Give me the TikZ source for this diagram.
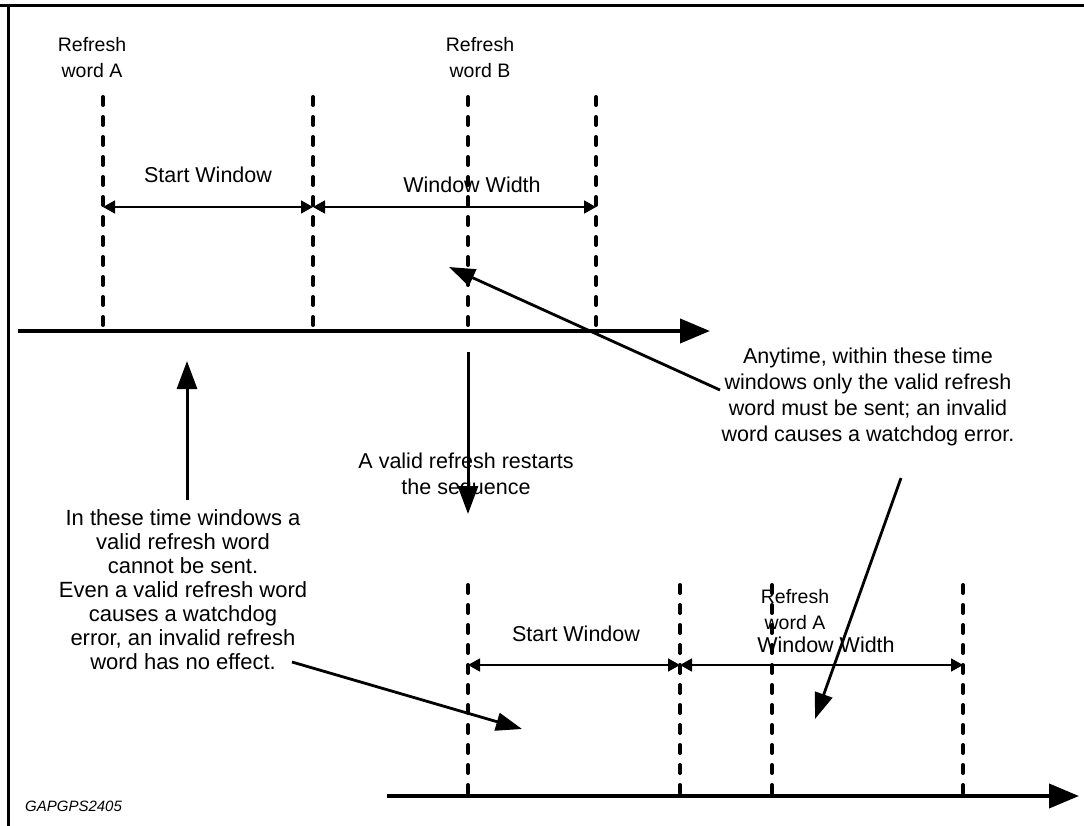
\documentclass[tikz,border=0pt]{standalone}
\usepackage{fontspec}
\setmainfont{Liberation Sans}
\usetikzlibrary{arrows.meta}
\tikzset{
  lbl/.style={align=center,inner sep=0pt,font=\fontsize{21.5}{26}\selectfont},
  reflbl/.style={align=center,inner sep=0pt,font=\fontsize{19.5}{26}\selectfont},
  leftlbl/.style={align=center,inner sep=0pt,font=\fontsize{22}{24}\selectfont},
  axis/.style={line width=4pt,-{Triangle[length=30pt,width=24pt]}},
  tick/.style={line width=4pt,line cap=round,dash pattern=on 8pt off 12pt},
  span/.style={line width=1.8pt,{Triangle[length=12pt,width=13pt]}-{Triangle[length=12pt,width=13pt]}},
  pointer/.style={line width=2.8pt,-{Triangle[length=26pt,width=18pt]}},
  big/.style={line width=3pt,-{Triangle[length=28pt,width=20pt]}}
}
\begin{document}
\begin{tikzpicture}[x=1pt,y=-1pt]
\useasboundingbox (0,0) rectangle (1084,826);
% frame
\draw[line width=3pt] (0,6) -- (1084,6);
\draw[line width=3pt] (8,6) -- (8,826);

% upper timeline
\coordinate (u0) at (18,331);
\coordinate (u1) at (710,331);
\draw[axis] (u0) -- (u1);
\foreach \n/\x in {a/103,b/313,c/468,d/596}{
  \coordinate (ut\n) at (\x,97);
  \coordinate (ub\n) at (\x,331);
  \draw[tick] (ut\n) -- (ub\n);
  \coordinate (um\n) at (\x,207);
}
\draw[span] (uma) -- (umb);
\draw[span] (umb) -- (umd);
\node[lbl] (sw1) at (208,175) {Start Window};
\node[lbl] (ww1) at (472,185) {Window Width};
\node[reflbl] (rwa) at (92,58) {Refresh\\word A};
\node[reflbl] (rwb) at (480,58) {Refresh\\word B};

% lower timeline
\coordinate (l0) at (387,796);
\coordinate (l1) at (1079,796);
\draw[axis] (l0) -- (l1);
\foreach \n/\x in {a/468,b/680,c/772,d/963}{
  \coordinate (lt\n) at (\x,585);
  \coordinate (lb\n) at (\x,796);
  \draw[tick] (lt\n) -- (lb\n);
  \coordinate (lm\n) at (\x,665);
}
\draw[span] (lma) -- (lmb);
\draw[span] (lmb) -- (lmd);
\node[lbl] (sw2) at (576,634) {Start Window};
\node[lbl] (ww2) at (826,645) {Window Width};
\node[reflbl] (rwa2) at (795,610) {Refresh\\word A};

% annotations
\node[lbl] (any) at (868,397) {Anytime, within these time\\windows only the valid refresh\\word must be sent; an invalid\\word causes a watchdog error.};
\node[lbl] (valid) at (466,476) {A valid refresh restarts\\the sequence};
\node[leftlbl] (inwin) at (183,590) {In these time windows a\\valid refresh word\\cannot be sent.\\Even a valid refresh word\\causes a watchdog\\error, an invalid refresh\\word has no effect.};

\coordinate (p1s) at (720,390);
\coordinate (p1e) at (449,267);
\draw[pointer] (p1s) -- (p1e);
\coordinate (p2s) at (901,478);
\coordinate (p2e) at (815,719);
\draw[pointer] (p2s) -- (p2e);
\coordinate (p3s) at (292,662);
\coordinate (p3e) at (522,729);
\draw[pointer] (p3s) -- (p3e);
\coordinate (vs) at (468,352);
\coordinate (ve) at (468,514);
\draw[big] (vs) -- (ve);
\coordinate (us) at (187,500);
\coordinate (ue) at (187,361);
\draw[big] (us) -- (ue);

\node[inner sep=0pt,anchor=west,font=\fontsize{15}{17}\selectfont\itshape] (code) at (25,806) {GAPGPS2405};
\end{tikzpicture}
\end{document}
